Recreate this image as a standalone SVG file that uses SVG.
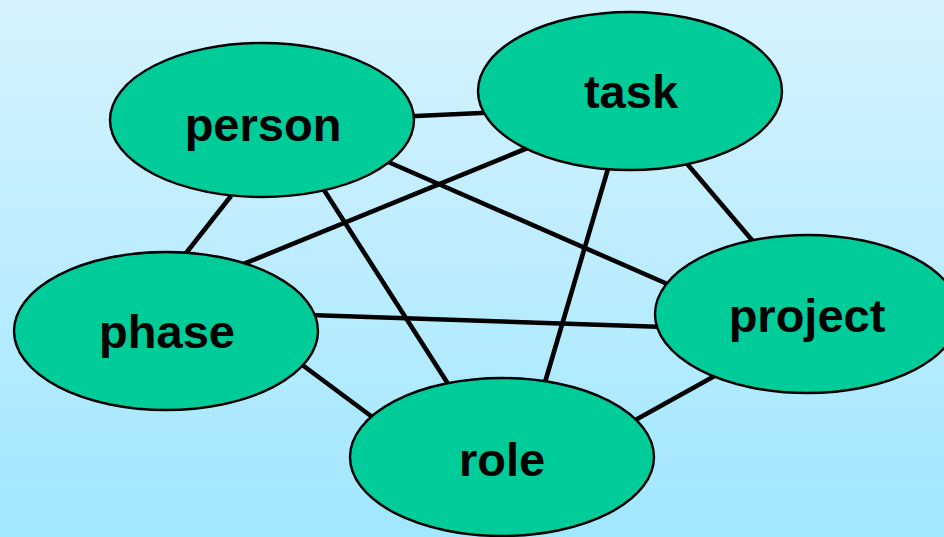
<svg xmlns="http://www.w3.org/2000/svg" width="944" height="537" viewBox="0 0 944 537">
  <defs>
    <linearGradient id="bg" x1="0" y1="0" x2="0" y2="1">
      <stop offset="0" stop-color="#d6f2fe"/>
      <stop offset="1" stop-color="#a1e7fe"/>
    </linearGradient>
    <style>
      .node ellipse { fill: #00cc99; stroke: #000; stroke-width: 2.4; }
      .node text { font-family: "Liberation Sans", Arial, sans-serif; font-weight: bold; font-size: 47px; fill: #000; text-anchor: middle; }
      #connectors line { stroke: #000; stroke-width: 4.6; }
    </style>
  </defs>
  <rect width="944" height="537" fill="url(#bg)"/>
  <g id="connectors">
    <line x1="405" y1="116.5" x2="492" y2="112.5"/>
    <line x1="231" y1="196" x2="183" y2="257"/>
    <line x1="530" y1="147" x2="241" y2="265"/>
    <line x1="386" y1="161" x2="672" y2="286"/>
    <line x1="324" y1="190" x2="452" y2="390"/>
    <line x1="610" y1="162" x2="543" y2="389"/>
    <line x1="683" y1="159" x2="757" y2="246"/>
    <line x1="309" y1="315" x2="665" y2="327"/>
    <line x1="297" y1="361" x2="379" y2="422"/>
    <line x1="630" y1="423" x2="720" y2="373"/>
  </g>
  <g id="person" class="node">
    <ellipse cx="262" cy="120" rx="152" ry="77"/>
    <text x="263" y="141">person</text>
  </g>
  <g id="task" class="node">
    <ellipse cx="630" cy="91" rx="152" ry="79"/>
    <text x="631" y="108">task</text>
  </g>
  <g id="phase" class="node">
    <ellipse cx="166" cy="331" rx="152" ry="79"/>
    <text x="167" y="348">phase</text>
  </g>
  <g id="project" class="node">
    <ellipse cx="807" cy="314" rx="152" ry="79"/>
    <text x="807" y="332">project</text>
  </g>
  <g id="role" class="node">
    <ellipse cx="502" cy="457" rx="152" ry="79"/>
    <text x="502" y="476">role</text>
  </g>
</svg>
